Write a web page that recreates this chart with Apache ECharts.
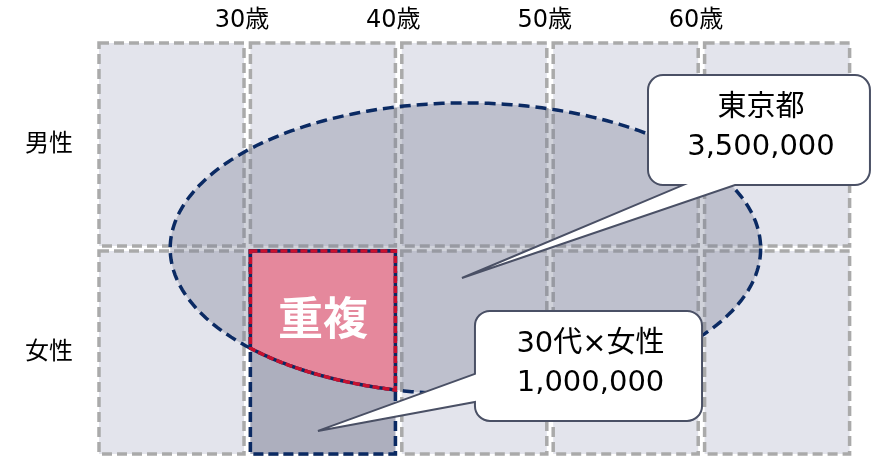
<!DOCTYPE html>
<html><head><meta charset="utf-8">
<script src="https://cdn.jsdelivr.net/npm/echarts@6/dist/echarts.min.js"></script>
<style>html,body{margin:0;padding:0;background:#fff}#c{width:871px;height:459px}</style>
</head><body><div id="c"></div>
<script>
// ---- data ----
const ageTicks = ['', '30歳', '40歳', '50歳', '60歳', ''];
const genders = ['男性', '女性'];
const ageColumns = [0, 1, 2, 3, 4];
const tokyoTitle = '東京都';
const tokyoCount = 3500000;
const targetTitle = '30代×女性';
const targetCount = 1000000;
const overlapLabel = '重複';
const targetCell = [1, 1];                    // column (30代), row (女性)
const tokyoEllipse = [2.44, 1.0, 1.95, 0.70]; // cx, cy, rx, ry (axis units)
const tokyoBox = [3.646, 0.166, 5.112, 0.695];
const tokyoTailBase = [3.877, 4.221];
const tokyoTip = [2.417, 1.142];
const targetBox = [2.503, 1.30, 4.003, 1.829];
const targetTailBase = [1.603, 1.738];
const targetTip = [1.466, 1.877];

const FONT = "'DejaVu Sans','Noto Sans CJK JP',sans-serif";
const fmt = n => n.toLocaleString('en-US');

const cells = [];
genders.forEach((g, r) => ageColumns.forEach(c => cells.push([c, r])));

function cellRect(api, c, r) {
  const p0 = api.coord([c, r]);
  const p1 = api.coord([c + 1, r + 1]);
  return { x: p0[0] + 3, y: p0[1] + 2.5, width: p1[0] - p0[0] - 6.4, height: p1[1] - p0[1] - 5 };
}
function ellipsePts(api, e) {
  const c = api.coord([e[0], e[1]]);
  const s = api.size([e[2], e[3]]);
  const pts = [];
  for (let i = 0; i < 240; i++) {
    const t = i / 240 * Math.PI * 2;
    pts.push([c[0] + s[0] * Math.cos(t), c[1] + s[1] * Math.sin(t)]);
  }
  return { pts, c, s };
}
function calloutPath(box, r, tail) {
  const [x1, y1, x2, y2] = box;
  let d = `M${x1 + r},${y1} L${x2 - r},${y1} A${r},${r} 0 0 1 ${x2},${y1 + r} L${x2},${y2 - r} A${r},${r} 0 0 1 ${x2 - r},${y2} `;
  if (tail.side === 'bottom') {
    d += `L${tail.b2},${y2} L${tail.tip[0]},${tail.tip[1]} L${tail.b1},${y2} `;
  }
  d += `L${x1 + r},${y2} A${r},${r} 0 0 1 ${x1},${y2 - r} `;
  if (tail.side === 'left') {
    d += `L${x1},${tail.b2} L${tail.tip[0]},${tail.tip[1]} L${x1},${tail.b1} `;
  }
  d += `L${x1},${y1 + r} A${r},${r} 0 0 1 ${x1 + r},${y1} Z`;
  return d;
}

const chart = echarts.init(document.getElementById('c'), null, { renderer: 'canvas' });
chart.setOption({
  animation: false,
  grid: { left: 96, right: 18, top: 40.5, bottom: 2.5 },
  xAxis: {
    type: 'value', min: 0, max: 5, interval: 1, position: 'top',
    axisLine: { show: false }, axisTick: { show: false }, splitLine: { show: false },
    axisLabel: { formatter: v => ageTicks[v] || '', fontSize: 24, color: '#000', fontFamily: FONT, margin: 8, padding: [0, 11, 0, 0] }
  },
  yAxis: {
    type: 'value', min: 0, max: 2, interval: 0.5, inverse: true,
    axisLine: { show: false }, axisTick: { show: false }, splitLine: { show: false },
    axisLabel: { formatter: v => (v % 1 === 0.5 ? genders[Math.floor(v)] : ''), fontSize: 24, color: '#000', fontFamily: FONT, margin: 23 }
  },
  series: [
    { // grid cells
      type: 'custom', z: 1, data: cells,
      renderItem: (p, api) => ({
        type: 'rect', shape: cellRect(api, api.value(0), api.value(1)),
        style: { fill: '#e3e4ec', stroke: '#aaaaaa', lineWidth: 3.5, lineDash: [10, 5] }
      })
    },
    { // Tokyo ellipse
      type: 'custom', z: 2, data: [tokyoEllipse],
      renderItem: (p, api) => {
        const e = ellipsePts(api, tokyoEllipse);
        return { type: 'polygon', shape: { points: e.pts },
          style: { fill: 'rgba(120,125,148,0.35)', stroke: '#0b2a63', lineWidth: 3.5, lineDash: [11, 6] } };
      }
    },
    { // target cell 30代 × 女性
      type: 'custom', z: 3, data: [targetCell],
      renderItem: (p, api) => ({
        type: 'rect', shape: cellRect(api, api.value(0), api.value(1)),
        style: { fill: '#adafbe', stroke: '#0b2a63', lineWidth: 3.5, lineDash: [10, 5] }
      })
    },
    { // overlap region
      type: 'custom', z: 4, data: [targetCell],
      renderItem: (p, api) => {
        const rc = cellRect(api, api.value(0), api.value(1));
        const c = api.coord([tokyoEllipse[0], tokyoEllipse[1]]);
        const s = api.size([tokyoEllipse[2], tokyoEllipse[3]]);
        const pts = [[rc.x, rc.y], [rc.x + rc.width, rc.y]];
        const n = 60;
        for (let i = n; i >= 0; i--) {
          const x = rc.x + rc.width * i / n;
          const k = (x - c[0]) / s[0];
          const y = Math.min(rc.y + rc.height, c[1] + s[1] * Math.sqrt(Math.max(0, 1 - k * k)));
          pts.push([x, y]);
        }
        return { type: 'group', children: [
          { type: 'polygon', shape: { points: pts }, style: { fill: '#e5889c', stroke: '#0b2a63', lineWidth: 3.5 } },
          { type: 'polygon', shape: { points: pts }, style: { fill: 'none', stroke: '#c8102e', lineWidth: 3.5, lineDash: [7, 3] } },
          { type: 'text', style: { text: overlapLabel, x: rc.x + rc.width / 2, y: rc.y + 67, align: 'center', verticalAlign: 'middle',
            fill: '#fff', fontSize: 45, fontWeight: 'bold', fontFamily: "'Noto Sans CJK JP',sans-serif" } }
        ] };
      }
    },
    { // callouts
      type: 'custom', z: 5, data: [[0, 0], [1, 1]],
      renderItem: (p, api) => {
        const isTokyo = p.dataIndex === 0;
        const b = isTokyo ? tokyoBox : targetBox;
        const a = api.coord([b[0], b[1]]), z = api.coord([b[2], b[3]]);
        const box = [a[0], a[1], z[0], z[1]];
        let tail;
        if (isTokyo) {
          tail = { side: 'bottom', b1: api.coord([tokyoTailBase[0], 0])[0], b2: api.coord([tokyoTailBase[1], 0])[0], tip: api.coord(tokyoTip) };
        } else {
          tail = { side: 'left', b1: api.coord([0, targetTailBase[0]])[1], b2: api.coord([0, targetTailBase[1]])[1], tip: api.coord(targetTip) };
        }
        const text = isTokyo ? tokyoTitle + '\n' + fmt(tokyoCount) : targetTitle + '\n' + fmt(targetCount);
        return { type: 'group', children: [
          { type: 'path', shape: { pathData: calloutPath(box, 15, tail) },
            style: { fill: '#fff', stroke: '#4a5065', lineWidth: 2 } },
          { type: 'text', style: { text, x: (box[0] + box[2]) / 2 + 2, y: (box[1] + box[3]) / 2 - 2, align: 'center', verticalAlign: 'middle',
            fill: '#000', fontSize: 29, lineHeight: 39, fontFamily: FONT } }
        ] };
      }
    }
  ]
});
</script></body></html>
